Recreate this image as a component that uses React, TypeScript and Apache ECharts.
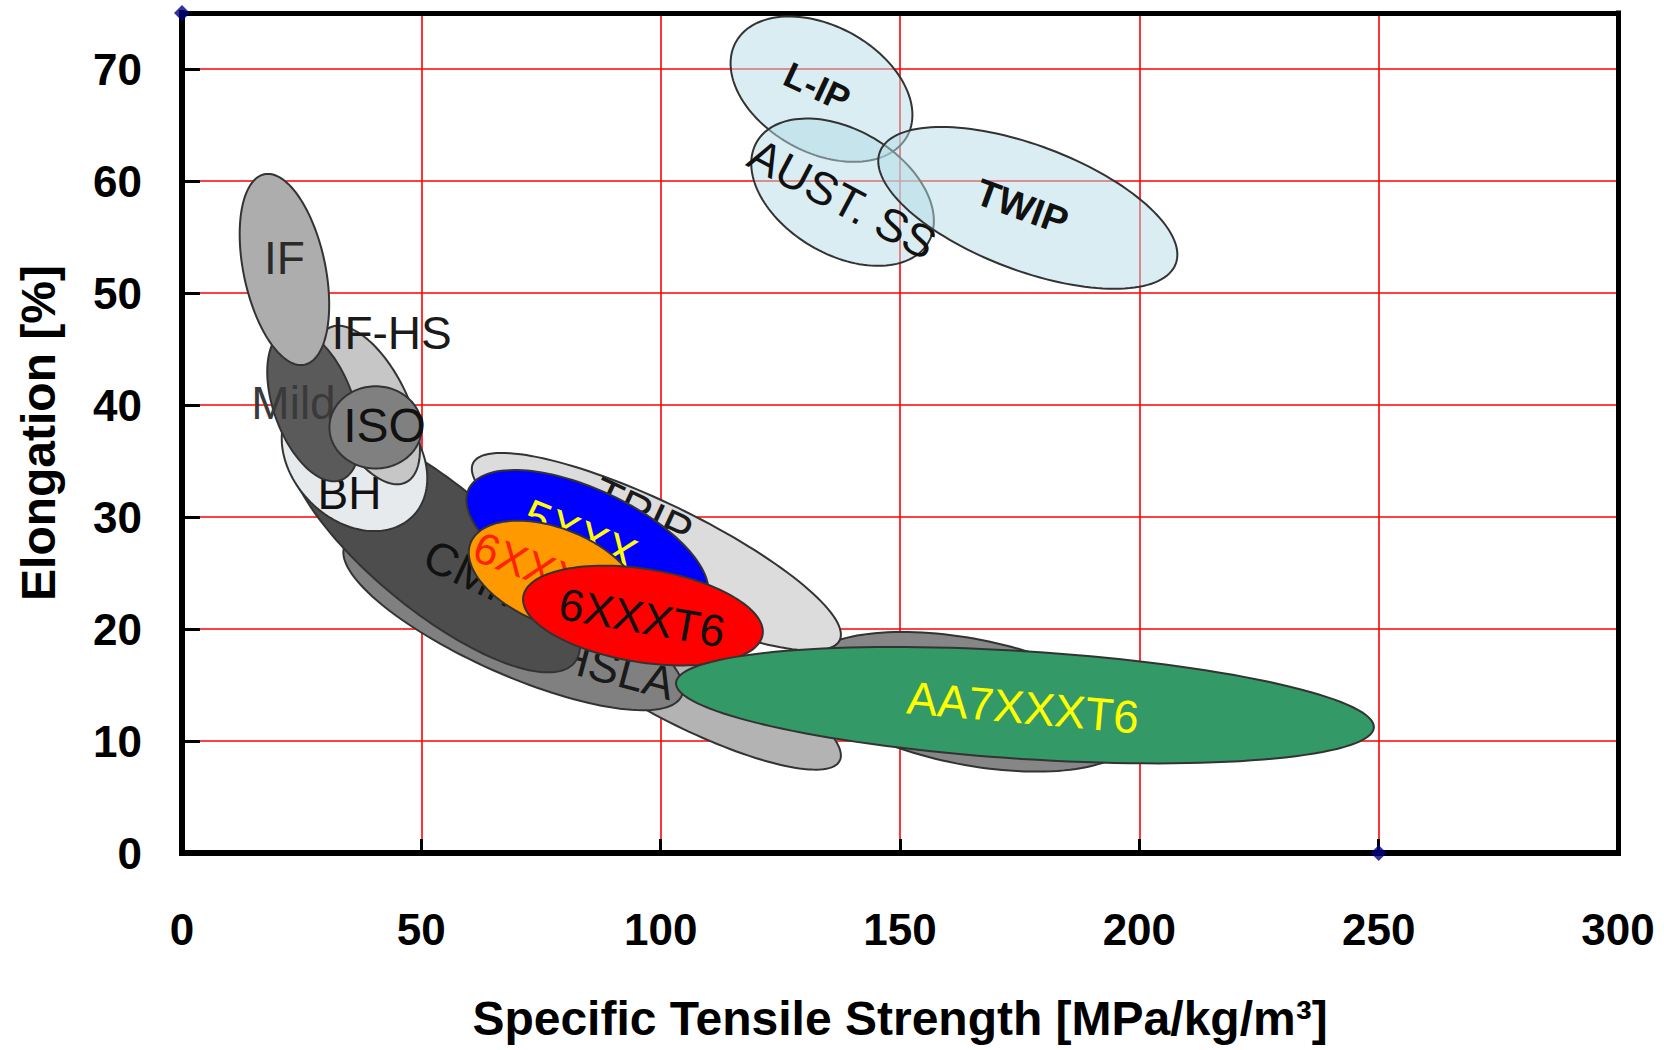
import React, { useEffect, useRef } from "react";
import * as echarts from "echarts";

const FONT = "'Liberation Sans', Arial, Helvetica, sans-serif";

// Axis ranges
const xMin = 0;
const xMax = 300;
const xStep = 50;
const yMin = 0;
const yMax = 75;
const yStep = 10;

const xTitle = "Specific Tensile Strength [MPa/kg/m³]";
const yTitle = "Elongation [%]";

// Material classes (drawn bottom to top)
const classNames = [
  "Mart", "DP", "TRIP", "HSLA", "CMn", "BH", "IF-HS", "Mild", "IF", "ISO",
  "5XXX", "6XXXT4", "6XXXT6", "AA7XXXT6", "L-IP", "AUST. SS", "TWIP",
];
// Ellipse centre (strength, elongation)
const centerX = [164.5, 105.7, 99.1, 69.2, 52.5, 36.04, 38.8, 27.5, 21.4, 40.45, 84.7, 77.8, 96.3, 176.1, 133.6, 138.0, 176.7];
const centerY = [13.5, 15.1, 26.9, 20.75, 27.4, 35.24, 40.0, 40.0, 52.1, 38.0, 27.5, 24.7, 21.2, 13.2, 68.2, 59.0, 57.6];
// End of the major semi-axis (strength, elongation)
const majorEndX = [199.4, 137.4, 137.4, 104.4, 82.0, 48.16, 30.8, 21.8, 17.2, 50.1, 109.5, 95.3, 121.3, 249.0, 151.5, 155.9, 207.6];
const majorEndY = [10.6, 8.23, 19.0, 14.04, 17.0, 30.05, 46.9, 46.7, 60.6, 38.0, 22.5, 21.7, 19.5, 11.2, 64.0, 54.5, 52.6];
// Minor / major axis ratio
const minorRatio = [0.37, 0.25, 0.24, 0.29, 0.345, 0.756, 0.46, 0.5, 0.42, 0.89, 0.42, 0.53, 0.385, 0.154, 0.647, 0.627, 0.395];

// Labels
const labelText = ["Mart", "", "TRIP", "HSLA", "CMn", "BH", "IF-HS", "Mild", "IF", "ISO", "5XXX", "6XXXT4", "6XXXT6", "AA7XXXT6", "L-IP", "AUST. SS", "TWIP"];
const labelX = [150.5, 0, 96.2, 90.6, 60.3, 35.0, 43.8, 23.3, 21.4, 42.3, 83.2, 77.4, 96.1, 175.7, 132.7, 138.0, 175.5];
const labelY = [11.1, 0, 30.4, 16.4, 25.0, 32.1, 46.4, 40.2, 53.1, 38.2, 28.4, 25.0, 21.0, 13.0, 68.4, 58.4, 57.7];
const labelAngle = [8, 0, 25, 15, 25, 0, 0, 0, 0, 0, 22, 20, 10, 5, 25, 28, 20];

// Small markers
const markerPoints = [[0, 75], [250, 0]];

// Styles
const LB = "rgba(180,220,230,0.5)";
const fills = ["#868686", "#b3b3b3", "#dcdcdc", "#808080", "#4d4d4d", "#e6eaec", "#c6c6c6", "#5a5a5a", "#adadad", "#808080", "#0000ff", "#ff9900", "#ff0000", "#339966", LB, LB, LB];
const labelColors = ["#1a1a1a", "#000", "#1a1a1a", "#1a1a1a", "#111", "#111", "#1a1a1a", "#3a3a3a", "#2a2a2a", "#111", "#ffff00", "#ff2200", "#111", "#ffff00", "#111", "#111", "#111"];
const labelSizes = [46, 46, 46, 46, 46, 46, 46, 46, 46, 48, 46, 44, 45, 46, 36, 46, 38];
const labelWeights = ["normal", "normal", "normal", "normal", "normal", "normal", "normal", "normal", "normal", "normal", "normal", "normal", "normal", "normal", "bold", "normal", "bold"];

function ellipsePoints(cx: number, cy: number, a: number, b: number, ang: number) {
  const pts: number[][] = [];
  const n = 140;
  const ca = Math.cos(ang);
  const sa = Math.sin(ang);
  for (let k = 0; k < n; k++) {
    const t = (k / n) * Math.PI * 2;
    const x = a * Math.cos(t);
    const y = b * Math.sin(t);
    pts.push([cx + x * ca - y * sa, cy + x * sa + y * ca]);
  }
  return pts;
}

export default function App() {
  const ref = useRef<HTMLDivElement>(null);

  useEffect(() => {
    if (!ref.current) return;
    const chart = echarts.init(ref.current, undefined, { renderer: "svg" });

    const ellipseData = classNames.map((_, i) => [centerX[i], centerY[i], majorEndX[i], majorEndY[i], minorRatio[i]]);

    const axisLabelStyle = { fontFamily: FONT, fontWeight: "bold" as const, fontSize: 44, color: "#000" };

    const option: any = {
      animation: false,
      backgroundColor: "#ffffff",
      grid: { left: 182, right: 46, top: 13, bottom: 197, containLabel: false },
      xAxis: [
        {
          type: "value",
          position: "bottom",
          min: xMin,
          max: xMax,
          interval: xStep,
          axisLine: { show: true, onZero: false, lineStyle: { color: "#000", width: 6, cap: "square" } },
          axisTick: { show: true, inside: true, length: 14, lineStyle: { color: "#000", width: 3 } },
          axisLabel: { ...axisLabelStyle, margin: 54 },
          splitLine: { show: true, showMinLine: false, showMaxLine: false, lineStyle: { color: "#ff0000", width: 1.6 } },
          name: xTitle,
          nameLocation: "middle",
          nameGap: 141,
          nameTextStyle: { fontFamily: FONT, fontWeight: "bold", fontSize: 48, color: "#000" },
        },
        {
          type: "value",
          position: "top",
          min: xMin,
          max: xMax,
          interval: xStep,
          axisLine: { show: true, onZero: false, lineStyle: { color: "#000", width: 5, cap: "square" } },
          axisTick: { show: false },
          axisLabel: { show: false },
          splitLine: { show: false },
        },
      ],
      yAxis: [
        {
          type: "value",
          position: "left",
          min: yMin,
          max: yMax,
          interval: yStep,
          axisLine: { show: true, onZero: false, lineStyle: { color: "#000", width: 6, cap: "square" } },
          axisTick: { show: true, inside: true, length: 18, lineStyle: { color: "#000", width: 3 } },
          axisLabel: { ...axisLabelStyle, margin: 40, showMaxLabel: false },
          splitLine: { show: true, showMinLine: false, showMaxLine: false, lineStyle: { color: "#ff0000", width: 1.6 } },
          name: yTitle,
          nameLocation: "middle",
          nameGap: 120,
          nameRotate: 90,
          nameTextStyle: { fontFamily: FONT, fontWeight: "bold", fontSize: 48, color: "#000" },
        },
        {
          type: "value",
          position: "right",
          min: yMin,
          max: yMax,
          interval: yStep,
          axisLine: { show: true, onZero: false, lineStyle: { color: "#000", width: 5, cap: "square" } },
          axisTick: { show: false },
          axisLabel: { show: false },
          splitLine: { show: false },
        },
      ],
      series: [
        {
          type: "custom",
          name: "materials",
          xAxisIndex: 0,
          yAxisIndex: 0,
          z: 2,
          silent: true,
          clip: false,
          data: ellipseData,
          renderItem: (params: any, api: any) => {
            const i = params.dataIndex;
            const c = api.coord([api.value(0), api.value(1)]);
            const e = api.coord([api.value(2), api.value(3)]);
            const dx = e[0] - c[0];
            const dy = e[1] - c[1];
            const a = Math.hypot(dx, dy);
            const b = a * api.value(4);
            const ang = Math.atan2(dy, dx);
            const children: any[] = [
              {
                type: "polygon",
                z2: i * 2,
                shape: { points: ellipsePoints(c[0], c[1], a, b, ang) },
                style: { fill: fills[i], stroke: "#333333", lineWidth: 2 },
              },
            ];
            if (labelText[i]) {
              const lp = api.coord([labelX[i], labelY[i]]);
              children.push({
                type: "text",
                z2: i * 2 + 1,
                x: lp[0],
                y: lp[1],
                rotation: (-labelAngle[i] * Math.PI) / 180,
                style: {
                  text: labelText[i],
                  fill: labelColors[i],
                  fontSize: labelSizes[i],
                  fontWeight: labelWeights[i],
                  fontFamily: FONT,
                  align: "center",
                  verticalAlign: "middle",
                },
              });
            }
            return { type: "group", children };
          },
        },
        {
          type: "scatter",
          name: "markers",
          xAxisIndex: 0,
          yAxisIndex: 0,
          z: 10,
          clip: false,
          silent: true,
          symbol: "diamond",
          symbolSize: 16,
          itemStyle: { color: "#000080" },
          data: markerPoints,
        },
      ],
    };

    chart.setOption(option);
    return () => {
      chart.dispose();
    };
  }, []);

  return (
    <div
      ref={ref}
      style={{ position: "absolute", left: 0, top: 0, width: 1664, height: 1050, background: "#fff" }}
    />
  );
}
